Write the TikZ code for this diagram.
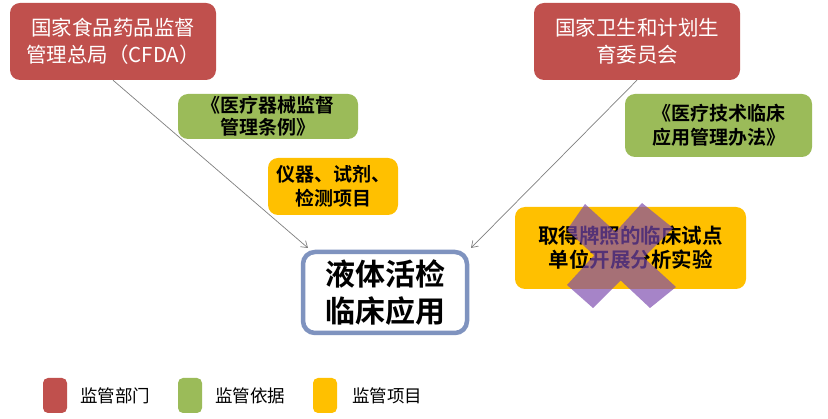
\documentclass[tikz,border=0pt]{standalone}
\usepackage{fontspec}
\setmainfont{Noto Sans CJK SC}
\newfontfamily\cjkb{Noto Sans CJK SC}[BoldFont={* Bold}]
\usetikzlibrary{arrows.meta}
\definecolor{cred}{HTML}{C0504D}
\definecolor{cgreen}{HTML}{9BBB59}
\definecolor{cyellow}{HTML}{FFC000}
\definecolor{cblue}{HTML}{7F93BF}
\definecolor{cpurple}{RGB}{125,75,175}
\begin{document}
\begin{tikzpicture}[x=1pt,y=-1pt,
  box/.style={rounded corners=10pt,inner sep=0pt,align=center,font=\cjkb\bfseries\fontsize{19}{23}\selectfont},
  redbox/.style={box,fill=cred,text=white,minimum width=206pt,minimum height=77pt,font=\cjkb\fontsize{20.5}{27}\selectfont},
  greenbox/.style={box,fill=cgreen,text=black},
  yellowbox/.style={box,fill=cyellow,text=black},
  legsq/.style={rounded corners=5pt,minimum width=24pt,minimum height=35pt,inner sep=0pt},
  legtx/.style={anchor=west,inner sep=0pt,font=\cjkb\fontsize{17.5}{20}\selectfont},
  arr/.style={draw=gray,line width=0.7pt,-{Straight Barb[length=6pt,width=8pt]}}]
\useasboundingbox (0,0) rectangle (828,419);
\fill[white] (0,0) rectangle (828,419);
% departments
\node[redbox] (r1) at (113,41.5) {国家食品药品监督\\管理总局（CFDA）};
\node[redbox] (r2) at (637,41.5) {国家卫生和计划生\\育委员会};
% basis
\node[greenbox,minimum width=180pt,minimum height=45pt,font=\cjkb\bfseries\fontsize{19}{22}\selectfont] (g1) at (268,116.5) {《医疗器械监督\\管理条例》};
\node[greenbox,minimum width=187pt,minimum height=63pt,font=\cjkb\bfseries\fontsize{19}{24}\selectfont] (g2) at (718.5,125.5) {《医疗技术临床\\应用管理办法》};
% items
\node[yellowbox,minimum width=130pt,minimum height=57pt,font=\cjkb\bfseries\fontsize{19}{24}\selectfont] (y1) at (333,186.5) {仪器、试剂、\\检测项目};
\node[yellowbox,minimum width=231pt,minimum height=82pt,font=\cjkb\bfseries\fontsize{20.5}{24}\selectfont] (y2) at (630.5,248) {取得牌照的临床试点\\单位开展分析实验};
% center
\node[draw=cblue,line width=4.5pt,rounded corners=12pt,fill=white,minimum width=164pt,minimum height=81pt,inner sep=0pt,align=center,font=\cjkb\bfseries\fontsize{30}{37}\selectfont] (c) at (385,292.5) {液体活检\\临床应用};
% cross
\fill[cpurple,opacity=0.68] (567,230) -- (585,204) -- (615.6,231.9) -- (642,203) -- (673,228) -- (643.6,257.4) -- (676,287) -- (650,308) -- (620.6,280.4) -- (593,308) -- (567,285) -- (594.1,255.4) -- cycle;
% arrows
\coordinate (e1) at (308,248);
\coordinate (e2) at (471,248);
\draw[arr] (r1.south) -- (e1);
\draw[arr] (r2.south) -- (e2);
% legend
\node[legsq,fill=cred] (l1) at (55,395.5) {};
\node[legtx] (t1) at (80,395.5) {监管部门};
\node[legsq,fill=cgreen] (l2) at (190,395.5) {};
\node[legtx] (t2) at (215,395.5) {监管依据};
\node[legsq,fill=cyellow] (l3) at (325,395.5) {};
\node[legtx] (t3) at (352,395.5) {监管项目};
\end{tikzpicture}
\end{document}
